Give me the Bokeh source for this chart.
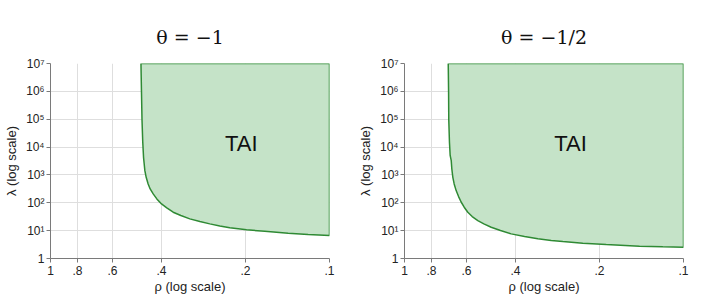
from bokeh.plotting import figure
from bokeh.layouts import row
from bokeh.models import Range1d, FixedTicker, Label
from bokeh.embed import file_html
from bokeh.resources import INLINE

# ---- data ----
titles = ["θ = −1", "θ = −1/2"]
region_label = "TAI"

rho1 = [0.474, 0.472, 0.470, 0.467, 0.464, 0.4615, 0.459, 0.454, 0.4467,
        0.4393, 0.4285, 0.4158, 0.400, 0.383, 0.3633, 0.341, 0.3167, 0.2915,
        0.2685, 0.2472, 0.2277, 0.1983, 0.1706, 0.1407, 0.1193, 0.100]
lam1 = [1e7, 1e6, 1e5, 1.5e4, 4285, 2473, 1426, 822, 475,
        314, 208, 138, 91, 65.5, 45.8, 34.8, 26.4, 21.2,
        17.5, 14.8, 12.6, 10.7, 9.55, 8.09, 7.25, 6.7]

rho2 = [0.697, 0.695, 0.694, 0.690, 0.686, 0.680, 0.6766, 0.671, 0.6637,
        0.6529, 0.640, 0.626, 0.611, 0.593, 0.572, 0.546, 0.5195, 0.489,
        0.4529, 0.4146, 0.3713, 0.3326, 0.298, 0.2707, 0.2296, 0.1893,
        0.1438, 0.1186, 0.100]
lam2 = [1e7, 1e6, 1e5, 1.5e4, 5e3, 3256, 1637, 822, 475,
        274, 167, 104.5, 69.2, 45.8, 32, 23, 17.5, 13.3,
        10.1, 7.66, 6.15, 5.07, 4.42, 4.07, 3.55, 3.18,
        2.77, 2.62, 2.54]

x_ticks = [1, 0.8, 0.6, 0.4, 0.2, 0.1]
x_tick_labels = ["1", ".8", ".6", ".4", ".2", ".1"]
y_ticks = [1, 10, 100, 1e3, 1e4, 1e5, 1e6, 1e7]
y_tick_labels = ["1", "10¹", "10²", "10³", "10⁴", "10⁵", "10⁶", "10⁷"]

x_label = "ρ (log scale)"
y_label = "λ (log scale)"

FILL = "#c5e3c8"
LINE = "#2f8a34"
GRID = "#dedede"
AXIS = "#7a7a7a"
SANS = "Liberation Sans"


def panel(title, rho, lam, tai_pos, left, right):
    p = figure(x_axis_type="log", y_axis_type="log",
               x_range=Range1d(1, 0.1), y_range=Range1d(1, 1e7),
               frame_width=279, frame_height=195,
               min_border_left=left, min_border_right=right,
               min_border_top=63, min_border_bottom=49,
               output_backend="svg", toolbar_location=None,
               title=title)
    p.outline_line_color = None
    p.background_fill_color = "white"
    p.border_fill_color = "white"

    p.title.align = "center"
    p.title.offset = -9
    p.title.text_font = "DejaVu Serif"
    p.title.text_font_size = "19px"
    p.title.text_font_style = "normal"
    p.title.text_color = "#111111"
    p.title.standoff = 31

    # patch: curve from top-left down to bottom-right, then up the right edge
    xs = list(rho) + [rho[-1]]
    ys = list(lam) + [lam[0]]
    p.patch(xs, ys, fill_color=FILL, line_color=LINE, line_width=1.5)

    for ax, ticks, labels in ((p.xaxis, x_ticks, x_tick_labels),
                              (p.yaxis, y_ticks, y_tick_labels)):
        ax.ticker = FixedTicker(ticks=ticks)
        ax.major_label_overrides = {t: l for t, l in zip(ticks, labels)}
        ax.minor_tick_line_color = None
        ax.major_tick_in = 0
        ax.major_tick_out = 4
        ax.axis_line_color = AXIS
        ax.major_tick_line_color = AXIS
        ax.major_label_text_font = SANS
        ax.major_label_text_font_size = "12px"
        ax.major_label_text_color = "#222222"
        ax.axis_label_text_font = SANS
        ax.axis_label_text_font_size = "13px"
        ax.axis_label_text_font_style = "normal"
        ax.axis_label_text_color = "#222222"
    p.xaxis.axis_label = x_label
    p.yaxis.axis_label = y_label
    p.xaxis.major_label_standoff = 3
    p.yaxis.major_label_standoff = 2
    p.xaxis.axis_label_standoff = 1
    p.yaxis.axis_label_standoff = 4

    p.xgrid.ticker = FixedTicker(ticks=x_ticks)
    p.ygrid.ticker = FixedTicker(ticks=y_ticks)
    p.grid.grid_line_color = GRID
    p.grid.grid_line_width = 1

    p.add_layout(Label(x=tai_pos[0], y=tai_pos[1], text=region_label,
                       text_align="center", text_baseline="middle",
                       text_font=SANS, text_font_size="22px",
                       text_color="#111111"))
    return p


p1 = panel(titles[0], rho1, lam1, (0.207, 1.3e4), 49, 25)
p2 = panel(titles[1], rho2, lam2, (0.254, 1.3e4), 47, 27)

layout = row(p1, p2)
open("out.html", "w").write(file_html(layout, INLINE))
